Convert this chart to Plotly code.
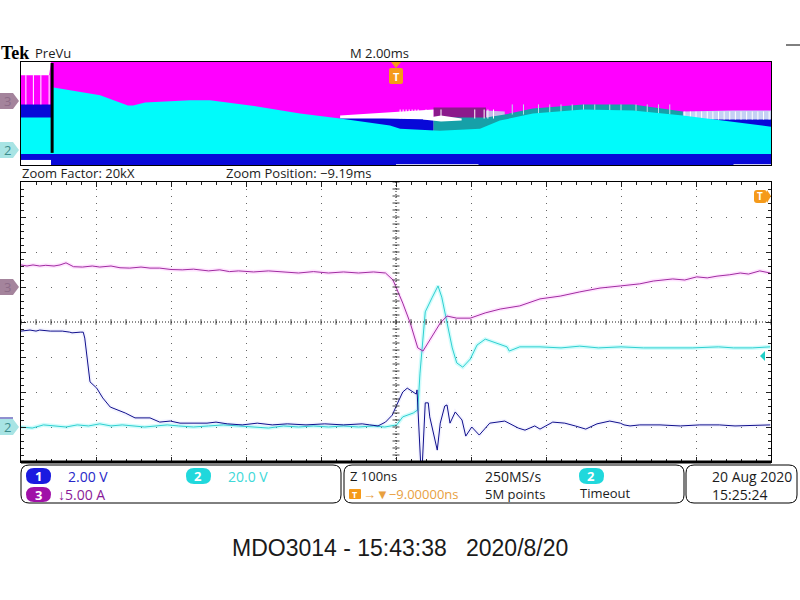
import plotly.graph_objects as go

W, H = 800, 600

# --- zoom window: ns across, divisions up ---
ch3_t = [-500, -492, -484, -475, -467, -456, -448, -440, -430, -418, -405, -395, -380, -368, -355, -340, -328, -315,
         -300, -285, -270, -250, -235, -222, -210, -190, -170, -150, -130, -110, -90, -70, -50, -30, -14, -4, 9, 19,
         29, 36, 45, 59, 68, 81, 99, 119, 139, 165, 192, 219, 245, 272, 299, 325, 343, 369, 385, 401, 415, 428, 445,
         459, 470, 485, 499]
ch3_v = [1.63, 1.60, 1.63, 1.60, 1.62, 1.60, 1.63, 1.69, 1.58, 1.57, 1.60, 1.57, 1.60, 1.55, 1.54, 1.57, 1.54, 1.54,
         1.50, 1.49, 1.51, 1.46, 1.49, 1.44, 1.46, 1.43, 1.46, 1.43, 1.40, 1.44, 1.40, 1.43, 1.40, 1.43, 1.40, 1.20,
         0.54, -0.03, -0.74, -0.83, -0.51, -0.03, 0.17, 0.11, 0.11, 0.26, 0.37, 0.46, 0.66, 0.74, 0.86, 0.97, 1.03,
         1.09, 1.17, 1.23, 1.20, 1.29, 1.26, 1.31, 1.35, 1.40, 1.37, 1.46, 1.40]

ch2_t = [-500, -485, -470, -455, -440, -425, -410, -395, -380, -365, -350, -335, -320, -305, -290, -270, -250, -230,
         -210, -190, -170, -150, -130, -110, -90, -70, -50, -30, -15, 1, 9, 23, 29, 32, 39, 48, 56, 61, 68, 75, 81,
         89, 99, 108, 119, 135, 148, 151, 165, 192, 220, 245, 270, 300, 330, 360, 395, 430, 450, 475, 499]
ch2_v = [-3.00, -3.03, -2.94, -2.97, -3.00, -2.94, -2.97, -2.91, -2.97, -2.94, -2.97, -3.00, -2.97, -2.94, -2.97,
         -3.00, -2.97, -2.94, -2.97, -3.00, -3.03, -2.97, -3.00, -2.97, -3.00, -2.97, -3.00, -2.97, -3.00, -2.94,
         -2.71, -2.60, -2.51, -1.46, 0.29, 0.69, 1.03, 0.71, -0.03, -0.74, -1.17, -1.29, -1.06, -0.66, -0.49, -0.60,
         -0.71, -0.83, -0.71, -0.71, -0.74, -0.69, -0.74, -0.71, -0.74, -0.74, -0.74, -0.71, -0.74, -0.74, -0.71]

ch1_t = [-500, -488, -480, -475, -461, -445, -435, -432, -421, -417, -415, -411, -408, -399, -391, -381, -361, -348,
         -328, -315, -301, -288, -252, -240, -225, -205, -185, -165, -145, -120, -95, -70, -45, -35, -24, -14, -5, 1,
         9, 15, 23, 27, 28, 32, 33, 35, 39, 43, 45, 55, 55, 59, 65, 68, 72, 79, 88, 93, 101, 111, 125, 145, 163, 172,
         185, 192, 209, 225, 239, 253, 268, 285, 299, 304, 312, 325, 352, 379, 405, 431, 452, 499]
ch1_v = [-0.26, -0.23, -0.26, -0.23, -0.26, -0.26, -0.29, -0.31, -0.29, -0.29, -0.46, -1.23, -1.71, -1.89, -2.17,
         -2.43, -2.60, -2.74, -2.74, -2.86, -2.83, -2.89, -2.89, -2.86, -2.91, -2.94, -2.89, -2.94, -2.91, -2.94,
         -2.91, -2.94, -2.91, -2.94, -2.97, -2.86, -2.66, -2.37, -2.00, -1.89, -2.00, -2.06, -1.94, -3.50, -4.10,
         -4.10, -2.31, -2.31, -2.71, -3.66, -3.66, -2.89, -2.40, -2.37, -2.89, -2.57, -2.80, -3.26, -3.00, -3.23,
         -2.89, -2.83, -3.03, -3.09, -2.97, -3.06, -2.86, -2.89, -2.97, -3.06, -2.91, -2.83, -2.89, -2.94, -2.97,
         -2.94, -2.94, -2.97, -2.94, -2.94, -2.97, -2.94]

# --- preview strip: ms across, level up from the bottom edge ---
prev_t = [-10, -9.25, -9.2, 10]
prev_top = [89, 89, 102, 102]

cyan_t = [-10, -9.2, -9.17, -7.89, -7.15, -7.01, -6.69, -5.49, -4.96, -3.89, -2.56, -1.49, -0.16, 0.11, 1.17, 2.24,
          2.77, 3.65, 4.99, 6.32, 7.65, 8.99, 10]
cyan_top = [47, 47, 77, 69, 59, 59, 62, 64, 64, 59, 51, 46, 39, 36, 34, 36, 44, 51, 55, 54, 49, 43, 38]

wedge_t = [-1.49, -0.35, 1.0]
wedge_top = [49, 52, 55]
wedge_low = [46, 46, 45]
purple_t = [1.0, 2.4]
purple_top = [57, 57]
pale_t = [2.4, 2.9]
pale_top = [54, 53]
teal_t = [1.0, 2.4, 2.9, 3.65, 4.99, 6.32, 7.65]
teal_top = [47, 47, 50, 56, 60, 60, 53]
right_t = [7.65, 8.99, 10]
right_top = [53, 54, 54]
right_low = [45, 45, 45]
blob_t = [0.72, 1.2, 1.75, 1.75, 1.2, 0.72]
blob_v = [46, 49, 46, 44, 43, 45]
left_stripes = [-9.87, -9.67, -9.47, -9.25]
mid_stripes = [0.11, 0.19, 0.27, 0.35, 0.43, 0.51, 0.59, 0.8, 1.2, 2.1, 2.35, 2.45, 2.6]
right_stripes = [7.7, 7.85, 8.0, 8.15, 8.3, 8.45, 8.6, 8.75, 8.9, 9.05, 9.2, 9.35, 9.5, 9.65, 9.8, 9.95]
teal_stripes = [3.1, 3.4, 3.8, 4.1, 4.4, 4.7, 5.0, 5.3, 5.7, 6.0, 6.4, 6.7, 7.0, 7.3]

MAGENTA, CYAN, BLUE = "#ff00ff", "#00fbfb", "#0808d8"
ORANGE = "#f59a1a"
INK = "#1c1c1c"
FONT = "Open Sans"


def px_x(x):
    return x / W


def px_y(y):
    return 1 - y / H


fig = go.Figure()


def band(x, y, color):
    fig.add_trace(go.Scatter(x=x, y=y, xaxis="x2", yaxis="y2", mode="lines", line=dict(width=0, color=color),
                             fill="tozeroy", fillcolor=color, hoverinfo="skip", showlegend=False))


def stripes(ts, lo, hi, color, width=1):
    xs, ys = [], []
    for t in ts:
        xs += [t, t, None]
        ys += [lo, hi, None]
    fig.add_trace(go.Scatter(x=xs, y=ys, xaxis="x2", yaxis="y2", mode="lines", line=dict(width=width, color=color),
                             hoverinfo="skip", showlegend=False))


# preview strip, back to front
band(prev_t, prev_top, MAGENTA)
band([-10, -9.2], [60, 60], BLUE)
stripes(left_stripes, 60, 89, "white")
band(purple_t, purple_top, "#8c1a8c")
band(wedge_t, wedge_top, "white")
band(wedge_t, wedge_low, BLUE)
band(pale_t, pale_top, "#c8b8e8")
band(right_t, right_top, "#c4d0f4")
band(right_t, right_low, BLUE)
band(teal_t, teal_top, "#16a0a8")
stripes(teal_stripes, 50, 60, "#b8e0e8")
stripes(mid_stripes, 46, 55, "white")
stripes(right_stripes, 45, 53, "white")
fig.add_trace(go.Scatter(x=blob_t, y=blob_v, xaxis="x2", yaxis="y2", mode="lines", line=dict(width=0),
                         fill="toself", fillcolor="white", hoverinfo="skip", showlegend=False))
band(cyan_t, cyan_top, CYAN)
band([-10, 10], [11, 11], BLUE)
band([-10, -9.2], [5, 5], "white")
band([0, 2.2], [1, 1], "#c8c8f4")
band([9, 10], [1, 1], "#c8c8f4")
stripes([-9.17], 12, 101, "black", 3)

# waveforms with the soft halo the scope screenshot has
for t, v, color, halo in [(ch2_t, ch2_v, "#2fd0d0", "rgba(0,240,240,0.18)"),
                          (ch3_t, ch3_v, "#a02ca0", "rgba(255,60,255,0.14)"),
                          (ch1_t, ch1_v, "#10108c", "rgba(60,60,255,0.06)")]:
    fig.add_trace(go.Scatter(x=t, y=v, mode="lines", line=dict(color=halo, width=4), hoverinfo="skip",
                             showlegend=False))
    fig.add_trace(go.Scatter(x=t, y=v, mode="lines", line=dict(color=color, width=1), hoverinfo="skip",
                             showlegend=False))

# centre cross: tick marks every sub-division
sub_x = list(range(-500, 501, 20))
sub_y = [i / 5 for i in range(-20, 21)]
fig.add_trace(go.Scatter(x=sub_x, y=[0] * len(sub_x), mode="markers", hoverinfo="skip", showlegend=False,
                         marker=dict(symbol="line-ns", size=4, line=dict(width=1, color="#444444"))))
fig.add_trace(go.Scatter(x=[0] * len(sub_y), y=sub_y, mode="markers", hoverinfo="skip", showlegend=False,
                         marker=dict(symbol="line-ew", size=5, line=dict(width=1, color="#444444"))))

fig.add_shape(type="line", x0=-500, x1=500, y0=0, y1=0, line=dict(color=INK, width=1, dash="1px,2px"))
fig.add_shape(type="line", x0=0, x1=0, y0=-4, y1=4, line=dict(color=INK, width=1, dash="1px,2px"))
# heavy lower edge of the graticule
fig.add_shape(type="line", xref="paper", yref="paper", x0=px_x(21), x1=px_x(771), y0=px_y(462), y1=px_y(462),
              line=dict(color="black", width=3))
fig.add_shape(type="line", xref="paper", yref="paper", x0=px_x(786), x1=1, y0=px_y(45), y1=px_y(45),
              line=dict(color="black", width=1))


def rounded(x0, y0, x1, y1, r, line=None, fill=None):
    xa, xb, ya, yb = px_x(x0), px_x(x1), px_y(y0), px_y(y1)
    rx, ry = r / W, r / H
    path = (f"M {xa + rx} {ya} L {xb - rx} {ya} Q {xb} {ya} {xb} {ya - ry} L {xb} {yb + ry} Q {xb} {yb} {xb - rx} {yb} "
            f"L {xa + rx} {yb} Q {xa} {yb} {xa} {yb + ry} L {xa} {ya - ry} Q {xa} {ya} {xa + rx} {ya} Z")
    fig.add_shape(type="path", path=path, xref="paper", yref="paper", fillcolor=fill or "rgba(0,0,0,0)",
                  line=dict(color=line or "rgba(0,0,0,0)", width=1))


def poly(points, fill):
    path = "M " + " L ".join(f"{px_x(x)} {px_y(y)}" for x, y in points) + " Z"
    fig.add_shape(type="path", path=path, xref="paper", yref="paper", fillcolor=fill, line=dict(width=0))


def note(x, y, text, size=12, color=INK, family=FONT, anchor="left"):
    fig.add_annotation(x=px_x(x), y=px_y(y), xref="paper", yref="paper", text=text, showarrow=False,
                       xanchor=anchor, yanchor="middle", font=dict(size=size, color=color, family=family),
                       borderpad=0)


def tag(y, fill, text, color):
    poly([(0, y - 8), (13, y - 8), (19, y), (13, y + 8), (0, y + 8)], fill)
    note(7, y, text, 13, color, anchor="center")


# header text
note(0, 53, "<b>Tek</b>", 18, "black", "Liberation Serif")
note(34, 53, "PreVu", 13)
note(349, 53, "M 2.00ms", 13)
note(21, 173, "Zoom Factor: 20kX", 13)
note(225, 173, "Zoom Position: −9.19ms", 13)

# channel tags on the left edge
tag(101, "#a4849c", "3", "#8c6c88")
tag(150, "#a8e4e4", "2", "#3c8c8c")
tag(287, "#a4849c", "3", "#8c6c88")
tag(427, "#a8e4e4", "2", "#3c8c8c")
fig.add_shape(type="line", xref="paper", yref="paper", x0=0, x1=px_x(13), y0=px_y(418), y1=px_y(418),
              line=dict(color="#2020a0", width=1))

# trigger flags
poly([(391, 62), (401, 62), (396, 68)], ORANGE)
rounded(389, 68, 403, 84, 2, fill=ORANGE)
note(396, 76, "<b>T</b>", 11, "white", anchor="center")
rounded(754, 190, 767, 203, 3, fill=ORANGE)
poly([(767, 190), (771, 196), (767, 203)], ORANGE)
note(760, 196, "<b>T</b>", 10, "white", anchor="center")
poly([(760, 356), (765, 351), (765, 361)], "#20d0c8")

# status boxes
rounded(21, 465, 341, 503, 8, line="black")
rounded(344, 465, 684, 503, 8, line="black")
rounded(686, 465, 797, 503, 8, line="black")
rounded(26, 468, 51, 484, 8, fill="#1a1ae0")
rounded(186, 468, 211, 484, 8, fill="#20d8dc")
rounded(26, 487, 51, 502, 8, fill="#a010a8")
rounded(579, 468, 604, 484, 8, fill="#20d8dc")
note(38, 476, "<b>1</b>", 13, "white", anchor="center")
note(198, 476, "<b>2</b>", 13, "white", anchor="center")
note(38, 495, "<b>3</b>", 13, "white", anchor="center")
note(591, 476, "<b>2</b>", 13, "white", anchor="center")
note(67, 476, "2.00 V", 14, "#2828c8")
note(227, 476, "20.0 V", 14, "#40d8d8")
note(57, 494, "↓5.00 A", 14, "#8a1a98")
note(349, 476, "Z 100ns", 13)
rounded(349, 489, 361, 499, 1, fill=ORANGE)
note(355, 494, "<b>T</b>", 9, "white", anchor="center")
note(362, 494, "→▼−9.00000ns", 13, "#e8a040")
note(484, 476, "250MS/s", 14)
note(484, 494, "5M points", 13)
note(579, 493, "Timeout", 13)
note(711, 476, "20 Aug 2020", 14)
note(711, 494, "15:25:24", 14)
note(400, 548, "MDO3014 - 15:43:38   2020/8/20", 23, "#1a1a1a", "Liberation Sans", "center")

dots = dict(showgrid=True, gridcolor="#666666", gridwidth=1, zeroline=False, showticklabels=False,
            showline=True, linecolor="black", linewidth=1, mirror="allticks", ticks="inside", tickcolor="#222222",
            ticklen=5, tickwidth=1)
fig.update_layout(
    width=W, height=H, autosize=False, margin=dict(l=0, r=0, t=0, b=0),
    paper_bgcolor="white", plot_bgcolor="white", showlegend=False,
    xaxis=dict(domain=[px_x(21), px_x(771)], range=[-500, 500], dtick=100, griddash="1px,6px",
               minor=dict(dtick=20, ticks="inside", ticklen=3, tickcolor="#222222", showgrid=False), **dots),
    yaxis=dict(domain=[px_y(462), px_y(182)], range=[-4, 4], dtick=1, griddash="1px,14px",
               minor=dict(dtick=0.2, ticks="inside", ticklen=3, tickcolor="#222222", showgrid=False), **dots),
    xaxis2=dict(domain=[px_x(21), px_x(771)], range=[-10, 10], anchor="y2", showgrid=False, zeroline=False,
                showticklabels=False, ticks="", showline=True, linecolor="black", mirror=True),
    yaxis2=dict(domain=[px_y(165), px_y(62)], range=[0, 102], anchor="x2", showgrid=False, zeroline=False,
                showticklabels=False, ticks="", showline=True, linecolor="black", mirror=True),
)

fig.write_html("out.html", config=dict(displayModeBar=False),
               post_script="document.body.style.margin='0';document.body.style.overflow='hidden';")
